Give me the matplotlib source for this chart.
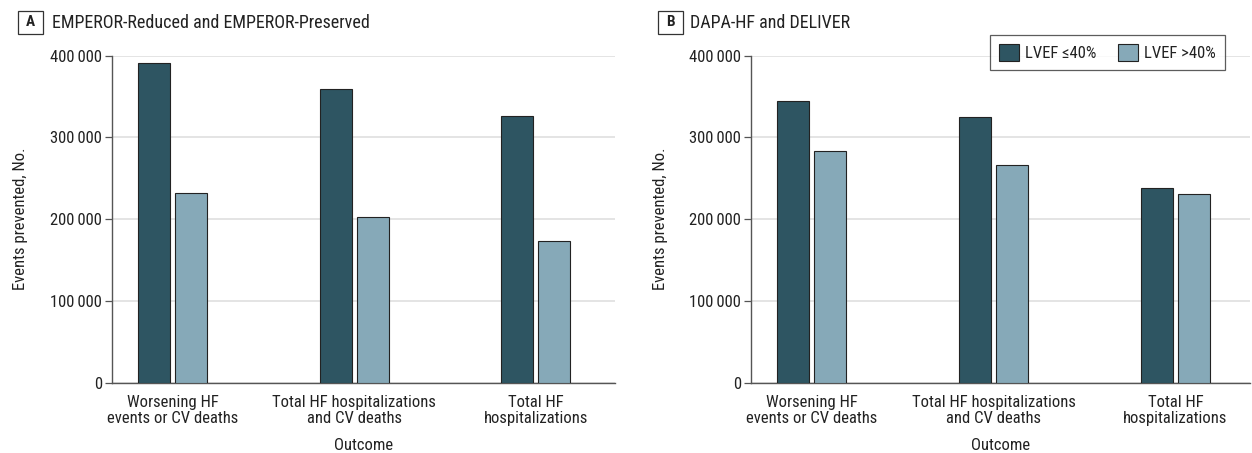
import matplotlib
matplotlib.use('Agg')
import matplotlib.pyplot as plt
from matplotlib import font_manager
from matplotlib.patches import Rectangle
from matplotlib.ticker import FuncFormatter
import numpy as np

# pick a narrow sans with a regular weight if one is installed
regular = {f.name for f in font_manager.fontManager.ttflist
           if f.weight in (400, 'normal', 'regular') and f.style == 'normal'
           and f.stretch in (
               'condensed', 'semi-condensed', 'semi-expanded', 'normal', 500, 400, 300, 200)}
base_font = 'DejaVu Sans'
for name in ['Liberation Sans Narrow', 'DejaVu Sans Condensed', 'Open Sans Condensed',
             'Roboto Condensed', 'Noto Sans']:
    if name in regular:
        base_font = name
        break
plt.rcParams['font.family'] = [base_font, 'DejaVu Sans']

outcomes = ["Worsening HF\nevents or CV deaths",
            "Total HF hospitalizations\nand CV deaths",
            "Total HF\nhospitalizations"]
series = ["LVEF \u226440%", "LVEF >40%"]

# panel A: EMPEROR-Reduced and EMPEROR-Preserved
emperor_reduced = [391000, 359000, 326000]
emperor_preserved = [232000, 203000, 173000]
# panel B: DAPA-HF and DELIVER
dapa_reduced = [344000, 325000, 238000]
dapa_preserved = [283000, 266000, 231000]

yticks = [0, 100000, 200000, 300000, 400000]

dark = '#2e5562'
light = '#86a9b8'
edge = '#222222'
text_c = '#222222'
W, H = 1252, 453
FS = 12

fig = plt.figure(figsize=(12.52, 4.53), dpi=100)
fig.patch.set_facecolor('white')


def fmt(v, pos):
    if v == 0:
        return '0'
    s = f"{int(v):,}"
    return s.replace(',', '\u2009')


def draw_panel(ax, reduced, preserved, letter, title, box_x, title_x, right_lim):
    x = np.arange(len(outcomes))
    ax.bar(x - 0.102, reduced, width=0.176, color=dark, edgecolor=edge,
           linewidth=0.8, zorder=3, label=series[0])
    ax.bar(x + 0.102, preserved, width=0.176, color=light, edgecolor=edge,
           linewidth=0.8, zorder=3, label=series[1])
    ax.set_ylim(0, 400000)
    ax.set_xlim(-0.336, right_lim)
    ax.set_yticks(yticks)
    ax.yaxis.set_major_formatter(FuncFormatter(fmt))
    ax.set_xticks(x)
    ax.set_xticklabels(outcomes, fontsize=FS, color=text_c, linespacing=1.1)
    ax.tick_params(axis='x', length=0, pad=9)
    ax.tick_params(axis='y', length=5, width=0.9, color='#555555', pad=2,
                   labelsize=FS, labelcolor=text_c)
    ax.grid(axis='y', color='#dddddd', linewidth=1.1, zorder=0)
    ax.set_axisbelow(True)
    for s in ['top', 'right']:
        ax.spines[s].set_visible(False)
    for s in ['left', 'bottom']:
        ax.spines[s].set_color('#555555')
        ax.spines[s].set_linewidth(1.0)
    ax.set_ylabel("Events prevented, No.", fontsize=FS, color=text_c)
    ax.yaxis.set_label_coords(-0.166, 0.5)
    ax.set_xlabel("Outcome", fontsize=FS, color=text_c)
    ax.xaxis.set_label_coords(0.5, -0.168)
    ax.xaxis.label.set_va('top')

    # panel letter box + title
    fig.add_artist(Rectangle((box_x / W, 1 - 34 / H), 25 / W, 23 / H,
                             transform=fig.transFigure, fill=False,
                             edgecolor='#333333', linewidth=0.9))
    fig.text((box_x + 12.5) / W, 1 - 22.5 / H, letter, ha='center', va='center',
             fontsize=11, fontweight='bold', color=text_c)
    fig.text(title_x / W, 1 - 22.5 / H, title, ha='left', va='center',
             fontsize=13, color=text_c)


ax_a = fig.add_axes([111.7 / W, 70.3 / H, 503.3 / W, 327 / H])
draw_panel(ax_a, emperor_reduced, emperor_preserved, 'A',
           'EMPEROR-Reduced and EMPEROR-Preserved', 18, 52, 2.436)

ax_b = fig.add_axes([750.7 / W, 70.3 / H, 499.3 / W, 327 / H])
draw_panel(ax_b, dapa_reduced, dapa_preserved, 'B',
           'DAPA-HF and DELIVER', 658, 690, 2.41)

leg = ax_b.legend(loc='upper right', bbox_to_anchor=(1225 / W, 1 - 35 / H),
                  bbox_transform=fig.transFigure, ncol=2, fontsize=FS,
                  frameon=True, fancybox=False, handlelength=1.2,
                  handleheight=1.15, handletextpad=0.35, columnspacing=1.3,
                  borderpad=0.55, borderaxespad=0)
leg.get_frame().set_edgecolor('#333333')
leg.get_frame().set_linewidth(0.9)
for t in leg.get_texts():
    t.set_color(text_c)

fig.savefig('out.png', dpi=100, facecolor='white')
